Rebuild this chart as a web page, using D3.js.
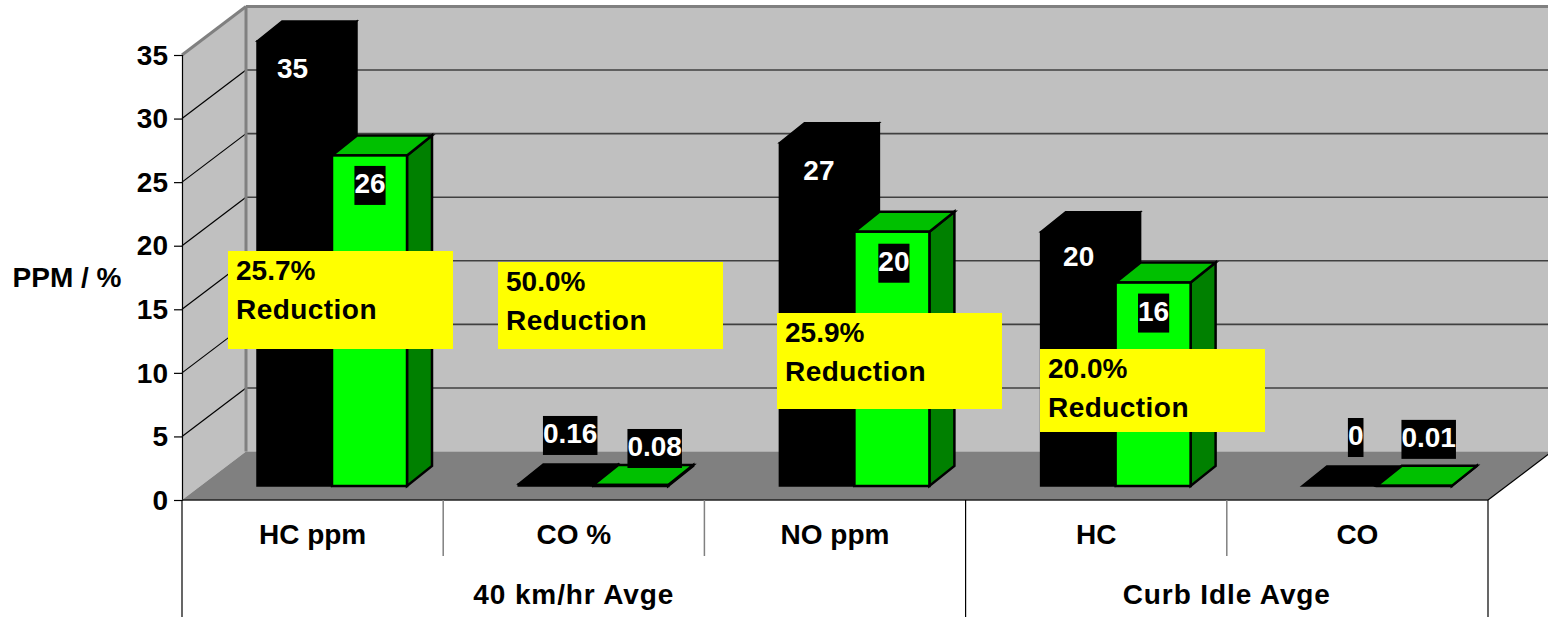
<!DOCTYPE html>
<html>
<head>
<meta charset="utf-8">
<script src="https://cdn.jsdelivr.net/npm/d3@7"></script>
<style>
  html, body { margin: 0; padding: 0; background: #fff; overflow: hidden; }
  text { font-family: "Liberation Sans", Arial, sans-serif; font-weight: bold; fill: #000; }
</style>
</head>
<body>
<svg id="chart" width="1548" height="617"></svg>
<script>
// chart values
const categories = ['HC ppm', 'CO %', 'NO ppm', 'HC', 'CO'];
const groups = ['40 km/hr Avge', 'Curb Idle Avge'];
const groupSizes = [3, 2];
const series = ['before', 'after'];
const beforeValues = [35, 0.16, 27, 20, 0];
const afterValues = [26, 0.08, 20, 16, 0.01];
const yTicks = [0, 5, 10, 15, 20, 25, 30, 35];
const reductions = ['25.7%', '50.0%', '25.9%', '20.0%'];

// floor depth of the 3d box, and of the bars standing on it
const depth = { x: 64, y: -48.5 };
const barDepth = { x: 25, y: -20 };
const barBase = 486;
const fontSize = 28;

// yellow boxes sit on the slide, not on the data
const noteBoxes = [
  { x: 228, y: 251, h: 98 },
  { x: 498, y: 262, h: 87 },
  { x: 777, y: 313, h: 96 },
  { x: 1040, y: 349, h: 83 }
];

// hand placed value labels: [dx from bar centre, dy from bar top]
const labelOffsets = {
  'HC ppm': { before: [-2, 27], after: [0.5, 27.5] },
  'CO %': { before: [14.5, -51], after: [24, -39] },
  'NO ppm': { before: [2, 27], after: [2, 29] },
  'HC': { before: [0.6, 24], after: [0.5, 28] },
  'CO': { before: [16.4, -51], after: [14.4, -49] }
};

const svg = d3.select('#chart');

const x = d3.scaleBand().domain(categories).range([182, 1488]);
const barX = d3.scaleBand().domain(series).range([75, 225]);
const y = d3.scaleLinear().domain([0, 35]).range([500, 55]);
const barHeight = d3.scaleLinear().domain([0, 35]).range([0, 445]);

const poly = (pts) => 'M' + pts.map((p) => p.join(',')).join('L') + 'Z';

// walls and floor
const x0 = x.range()[0], x1 = x.range()[1];
svg.append('path')
  .attr('d', poly([[x0, y(35)], [x0 + depth.x, y(35) + depth.y], [x0 + depth.x, y(0) + depth.y], [x0, y(0)]]))
  .attr('fill', '#c0c0c0');
svg.append('path')
  .attr('d', poly([[x0 + depth.x, y(35) + depth.y], [x1 + depth.x, y(35) + depth.y], [x1 + depth.x, y(0) + depth.y], [x0 + depth.x, y(0) + depth.y]]))
  .attr('fill', '#c0c0c0');
svg.append('path')
  .attr('d', poly([[x0, y(0)], [x0 + depth.x, y(0) + depth.y], [x1 + depth.x, y(0) + depth.y], [x1, y(0)]]))
  .attr('fill', '#808080');

// gridlines
yTicks.filter((d) => d > 0).forEach((d) => {
  svg.append('line')
    .attr('x1', x0 + depth.x).attr('x2', x1 + depth.x)
    .attr('y1', y(d) + depth.y).attr('y2', y(d) + depth.y)
    .attr('stroke', d === 35 ? '#808080' : '#404040')
    .attr('stroke-width', d === 35 ? 3 : 1.6);
  svg.append('line')
    .attr('x1', x0).attr('x2', x0 + depth.x)
    .attr('y1', y(d)).attr('y2', y(d) + depth.y)
    .attr('stroke', d === 35 ? '#808080' : '#000')
    .attr('stroke-width', d === 35 ? 3 : 1.2);
});
svg.append('line')
  .attr('x1', x0 + depth.x).attr('x2', x0 + depth.x)
  .attr('y1', y(35) + depth.y).attr('y2', y(0) + depth.y)
  .attr('stroke', '#808080').attr('stroke-width', 3);
svg.append('line')
  .attr('x1', x1).attr('x2', x1 + depth.x)
  .attr('y1', y(0)).attr('y2', y(0) + depth.y)
  .attr('stroke', '#000').attr('stroke-width', 1.2);

// bars, black first so the green one covers it
const rows = categories.map((c, i) => ({ cat: c, before: beforeValues[i], after: afterValues[i] }));

const drawBar = (d, key, front, top, side, strokeW) => {
  const left = x(d.cat) + barX(key);
  const right = left + barX.bandwidth();
  const ty = barBase - barHeight(d[key]);
  const g = svg.append('g')
    .attr('stroke', '#000')
    .attr('stroke-width', strokeW)
    .attr('stroke-linejoin', 'miter');
  g.append('path')
    .attr('fill', side)
    .attr('d', poly([[right, ty], [right + barDepth.x, ty + barDepth.y], [right + barDepth.x, barBase + barDepth.y], [right, barBase]]));
  g.append('path')
    .attr('fill', top)
    .attr('d', poly([[left, ty], [left + barDepth.x, ty + barDepth.y], [right + barDepth.x, ty + barDepth.y], [right, ty]]));
  g.append('rect')
    .attr('fill', front)
    .attr('x', left).attr('y', ty)
    .attr('width', right - left).attr('height', barBase - ty);
};

rows.forEach((d) => {
  drawBar(d, 'before', '#000', '#000', '#000', 1.5);
  drawBar(d, 'after', '#00ff00', '#00c000', '#008000', 2.5);
});

// value labels, black plate behind each
const drawValue = (d, key) => {
  const off = labelOffsets[d.cat][key];
  const lx = x(d.cat) + barX(key) + barX.bandwidth() / 2 + off[0];
  const ly = barBase - barHeight(d[key]) + off[1];
  const label = svg.append('text')
    .attr('x', lx).attr('y', ly + 10)
    .attr('text-anchor', 'middle')
    .attr('font-size', fontSize)
    .style('fill', '#fff')
    .text(String(d[key]));
  const w = label.node().getComputedTextLength();
  svg.insert('rect', function() { return label.node(); })
    .attr('x', lx - w / 2).attr('y', ly - 17)
    .attr('width', w).attr('height', 39)
    .attr('fill', '#000');
};
rows.forEach((d) => {
  drawValue(d, 'before');
  drawValue(d, 'after');
});

// reduction notes
reductions.forEach((r, i) => {
  const b = noteBoxes[i];
  svg.append('rect')
    .attr('x', b.x).attr('y', b.y)
    .attr('width', 225).attr('height', b.h)
    .attr('fill', '#ffff00');
  svg.append('text').attr('x', b.x + 8).attr('y', b.y + 28.5).attr('font-size', fontSize).text(r);
  svg.append('text').attr('x', b.x + 8).attr('y', b.y + 67.5).attr('font-size', fontSize)
    .attr('letter-spacing', 0.45).text('Reduction');
});

// value axis
const yAxis = svg.append('g')
  .attr('transform', `translate(${x0},0)`)
  .call(d3.axisLeft(y).tickValues(yTicks).tickSize(8).tickPadding(6).tickFormat(d3.format('d')));
yAxis.select('.domain').attr('stroke', '#000').attr('stroke-width', 1.2);
yAxis.selectAll('.tick line').attr('stroke', '#000').attr('stroke-width', 1.2);
yAxis.selectAll('text').attr('font-size', fontSize).attr('font-family', null).attr('dy', '0.33em');

svg.append('text')
  .attr('x', 67).attr('y', 287)
  .attr('text-anchor', 'middle')
  .attr('font-size', fontSize)
  .text('PPM / %');

// category axis, two tiers
svg.append('line')
  .attr('x1', x0).attr('x2', x1)
  .attr('y1', y(0)).attr('y2', y(0))
  .attr('stroke', '#202020').attr('stroke-width', 1.5);

svg.selectAll('.cat-label')
  .data(categories)
  .enter().append('text')
  .attr('class', 'cat-label')
  .attr('x', (d) => x(d) + x.bandwidth() / 2)
  .attr('y', 544)
  .attr('text-anchor', 'middle')
  .attr('font-size', fontSize)
  .text((d) => d);

let start = 0;
const groupEdges = [0];
groupSizes.forEach((n) => {
  start += n;
  groupEdges.push(start);
});

categories.forEach((c, i) => {
  if (i === 0 || groupEdges.includes(i)) return;
  svg.append('line')
    .attr('x1', x(c)).attr('x2', x(c))
    .attr('y1', y(0)).attr('y2', 556)
    .attr('stroke', '#808080').attr('stroke-width', 1.5);
});

const edgeX = (i) => i < categories.length ? x(categories[i]) : x1;
groupEdges.forEach((e) => {
  svg.append('line')
    .attr('x1', edgeX(e)).attr('x2', edgeX(e))
    .attr('y1', y(0)).attr('y2', 617)
    .attr('stroke', '#000').attr('stroke-width', 1.2);
});

groups.forEach((g, i) => {
  svg.append('text')
    .attr('x', (edgeX(groupEdges[i]) + edgeX(groupEdges[i + 1])) / 2)
    .attr('y', 604)
    .attr('text-anchor', 'middle')
    .attr('font-size', fontSize)
    .attr('letter-spacing', 0.9)
    .text(g);
});
</script>
</body>
</html>
